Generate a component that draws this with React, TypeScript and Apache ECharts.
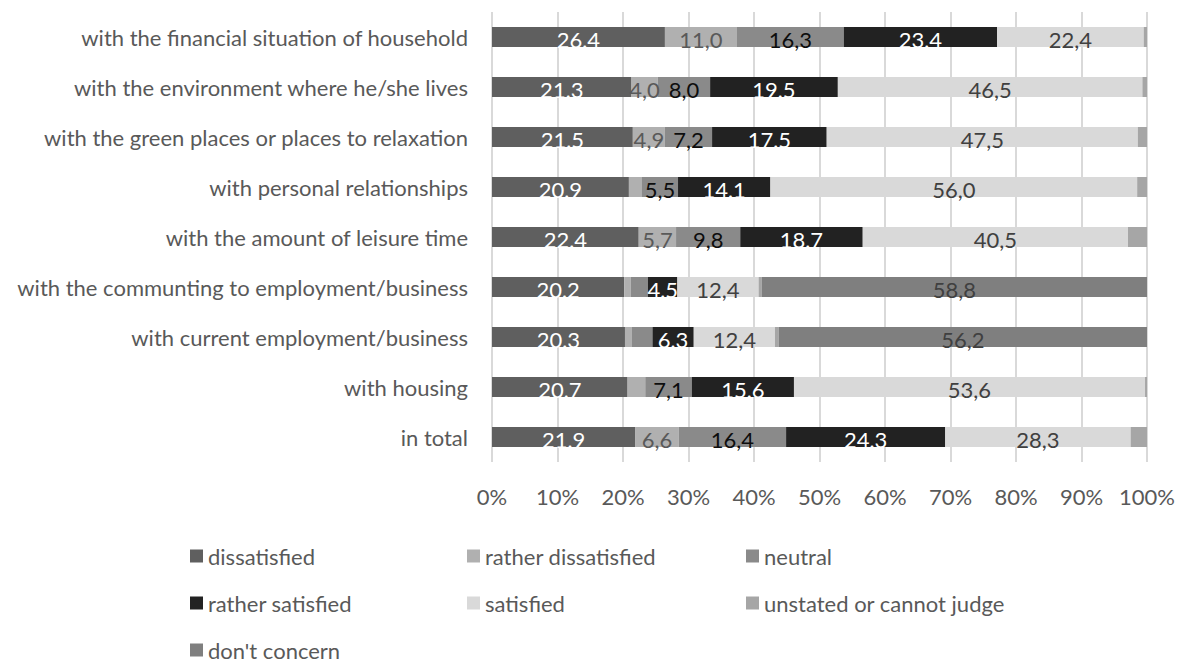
import React, { useEffect, useRef } from "react";
import * as echarts from "echarts";

const categories = [
  "with the financial situation of household",
  "with the environment where he/she lives",
  "with the green places or places to relaxation",
  "with personal relationships",
  "with the amount of leisure time",
  "with the communting to employment/business",
  "with current employment/business",
  "with housing",
  "in total",
];

const dissatisfied = [26.4, 21.3, 21.5, 20.9, 22.4, 20.2, 20.3, 20.7, 21.9];
const ratherDissatisfied = [11.0, 4.0, 4.9, 2.0, 5.7, 1.0, 1.0, 2.7, 6.6];
const neutral = [16.3, 8.0, 7.2, 5.5, 9.8, 2.6, 3.2, 7.1, 16.4];
const ratherSatisfied = [23.4, 19.5, 17.5, 14.1, 18.7, 4.5, 6.3, 15.6, 24.3];
const satisfied = [22.4, 46.5, 47.5, 56.0, 40.5, 12.4, 12.4, 53.6, 28.3];
const unstated = [0.5, 0.7, 1.4, 1.5, 2.9, 0.5, 0.6, 0.3, 2.5];
const dontConcern = [0, 0, 0, 0, 0, 58.8, 56.2, 0, 0];

const FONT = "Lato";
const FS = 22;

export default function App() {
  const ref = useRef<HTMLDivElement>(null);
  useEffect(() => {
    if (!ref.current) return;
    const chart = echarts.init(ref.current, undefined, { renderer: "svg" });
    const fmt = (min: number) => (p: any) =>
      p.value >= min ? Number(p.value).toFixed(1).replace(".", ",") : "";
    const mk = (name: string, data: number[], color: string, labelColor: string, min: number, show = true) => ({
      name,
      type: "bar",
      stack: "total",
      barWidth: 20,
      data,
      itemStyle: { color },
      label: {
        show,
        position: "inside",
        formatter: fmt(min),
        color: labelColor,
        fontSize: FS,
        fontFamily: FONT,
        offset: [0, 2],
      },
    });
    const legendCommon = {
      orient: "vertical",
      top: 540,
      height: 200,
      itemWidth: 13,
      itemHeight: 13,
      itemGap: 25,
      icon: "rect",
      textStyle: { fontSize: FS, fontFamily: FONT, color: "#595959", lineHeight: 22 },
    };
    chart.setOption({
      animation: false,
      grid: { left: 492, right: 35, top: 12, bottom: 204, containLabel: false },
      xAxis: {
        type: "value",
        min: 0,
        max: 100,
        interval: 10,
        axisLine: { show: false },
        axisTick: { show: false },
        splitLine: { show: true, lineStyle: { color: "#d9d9d9", width: 2 } },
        axisLabel: { formatter: "{value}%", fontSize: FS, fontFamily: FONT, color: "#595959", margin: 23 },
      },
      yAxis: {
        type: "category",
        inverse: true,
        data: categories,
        axisLine: { show: false },
        axisTick: { show: false },
        axisLabel: { fontSize: FS, fontFamily: FONT, color: "#595959", margin: 24 },
      },
      legend: [
        { ...legendCommon, left: 185, data: ["dissatisfied", "rather satisfied", "don't concern"] },
        { ...legendCommon, left: 462, data: ["rather dissatisfied", "satisfied"] },
        { ...legendCommon, left: 741, data: ["neutral", "unstated or cannot judge"] },
      ],
      series: [
        mk("dissatisfied", dissatisfied, "#5f5f5f", "#ffffff", 0.1),
        mk("rather dissatisfied", ratherDissatisfied, "#b0b0b0", "#595959", 4),
        mk("neutral", neutral, "#8a8a8a", "#0d0d0d", 5),
        mk("rather satisfied", ratherSatisfied, "#222222", "#ffffff", 0.1),
        mk("satisfied", satisfied, "#d9d9d9", "#404040", 0.1),
        mk("unstated or cannot judge", unstated, "#a6a6a6", "#404040", 100, false),
        mk("don't concern", dontConcern, "#7f7f7f", "#404040", 0.1),
      ],
    });
    return () => chart.dispose();
  }, []);
  return (
    <div
      ref={ref}
      style={{ position: "fixed", left: 0, top: 0, width: 1182, height: 666, background: "#fff" }}
    />
  );
}
